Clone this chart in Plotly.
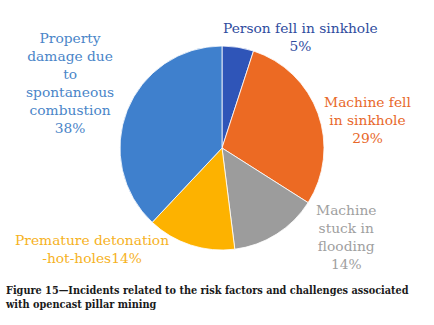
import plotly.graph_objects as go

categories = ["Person fell in sinkhole", "Machine fell in sinkhole", "Machine stuck in flooding",
              "Premature detonation -hot-holes", "Property damage due to spontaneous combustion"]
values = [5, 29, 14, 14, 38]
colors = ["#2F55B8", "#EC6A23", "#9C9C9C", "#FDB200", "#3F80CD"]
label_texts = ["Person fell in sinkhole<br>5%",
               "Machine fell<br>in sinkhole<br>29%",
               "Machine<br>stuck in<br>flooding<br>14%",
               "Premature detonation<br>-hot-holes14%",
               "Property<br>damage due<br>to<br>spontaneous<br>combustion<br>38%"]
label_colors = ["#2F4C9E", "#E8682A", "#A0A0A0", "#F6B21E", "#4A85C8"]
label_pos = [(300, 37), (367, 120), (346, 237), (92, 249), (70, 83)]

W, H = 434, 325
SERIF = "DejaVu Serif, Liberation Serif, serif"
CAPTION_FONT = "DejaVu Serif Condensed, DejaVu Serif, serif"


def px(x):
    return x / W


def py(y):
    return 1 - y / H


fig = go.Figure(go.Pie(
    labels=categories, values=values, sort=False, direction="clockwise", rotation=0,
    marker=dict(colors=colors, line=dict(color="white", width=0.8)),
    textinfo="none", hoverinfo="label+percent", showlegend=False,
    domain=dict(x=[px(120), px(324)], y=[py(250), py(46)]),
))

for t, c, (x, y) in zip(label_texts, label_colors, label_pos):
    fig.add_annotation(text=t, x=px(x), y=py(y), xref="paper", yref="paper",
                       showarrow=False, align="center", xanchor="center", yanchor="middle",
                       font=dict(family=SERIF, size=13.8, color=c))

fig.add_annotation(text="<b>Figure 15—Incidents related to the risk factors and challenges associated<br>with opencast pillar mining</b>",
                   x=px(3), y=py(282), xref="paper", yref="paper", showarrow=False,
                   align="left", xanchor="left", yanchor="top",
                   font=dict(family=CAPTION_FONT, size=10.8, color="#1a1a1a"))

fig.update_layout(width=W, height=H, margin=dict(l=0, r=0, t=0, b=0),
                  paper_bgcolor="white", plot_bgcolor="white")
fig.write_html("out.html", config={"displayModeBar": False},
               post_script="document.body.style.margin='0';")
